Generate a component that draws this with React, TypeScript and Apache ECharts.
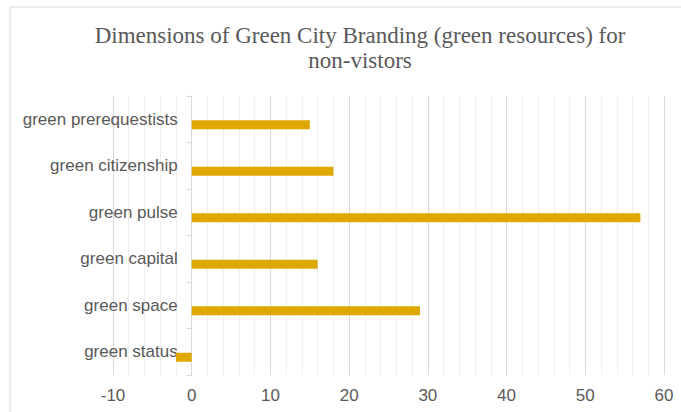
import React, { useEffect, useRef } from "react";
import * as echarts from "echarts";

const categories = [
  "green status",
  "green space",
  "green capital",
  "green pulse",
  "green citizenship",
  "green prerequestists",
];
const values = [-2, 29, 16, 57, 18, 15];
const emptyValues = [null, null, null, null, null, null];
const titleLines = ["Dimensions of Green City Branding (green resources) for", "non-vistors"];

export default function App() {
  const ref = useRef<HTMLDivElement>(null);
  useEffect(() => {
    const chart = echarts.init(ref.current!, null, { renderer: "svg" });
    chart.setOption({
      animation: false,
      backgroundColor: "#ffffff",
      title: {
        text: titleLines.join("\n"),
        left: 355,
        top: 18,
        textAlign: "center",
        textStyle: {
          fontFamily: "Liberation Serif",
          fontSize: 23,
          fontWeight: "normal",
          color: "#595959",
          lineHeight: 25,
        },
      },
      graphic: [
        {
          type: "rect",
          shape: { x: 10, y: 7, width: 700, height: 440 },
          style: { fill: "none", stroke: "#d9d9d9", lineWidth: 1 },
          silent: true,
        },
      ],
      grid: {
        left: 113,
        right: 17,
        top: 96,
        bottom: 37,
        containLabel: false,
        outerBoundsMode: "none",
      },
      xAxis: {
        type: "value",
        min: -10,
        max: 60,
        interval: 10,
        axisLine: { show: false },
        axisTick: { show: false },
        axisLabel: {
          color: "#595959",
          fontFamily: "Liberation Sans",
          fontSize: 17,
          margin: 12,
        },
        splitLine: { show: true, lineStyle: { color: "#d9d9d9", width: 1 } },
        minorTick: { show: false, splitNumber: 5 },
        minorSplitLine: { show: true, lineStyle: { color: "#efefef", width: 1 } },
      },
      yAxis: {
        type: "category",
        data: categories,
        offset: -78.7,
        axisLine: { show: true, onZero: false, lineStyle: { color: "#d9d9d9" } },
        axisTick: { show: true, length: 5, lineStyle: { color: "#d9d9d9" } },
        axisLabel: {
          color: "#595959",
          fontFamily: "Liberation Sans",
          fontSize: 17,
          margin: 14,
        },
      },
      series: [
        {
          type: "bar",
          data: emptyValues,
          barWidth: 9,
          barGap: "22%",
          itemStyle: { color: "#DFA800" },
        },
        {
          type: "bar",
          data: values,
          barWidth: 9,
          barGap: "22%",
          itemStyle: { color: "#DFA800" },
        },
      ],
    });
    return () => chart.dispose();
  }, []);
  return (
    <div
      ref={ref}
      style={{ position: "fixed", left: 0, top: 0, width: 681, height: 412 }}
    />
  );
}
